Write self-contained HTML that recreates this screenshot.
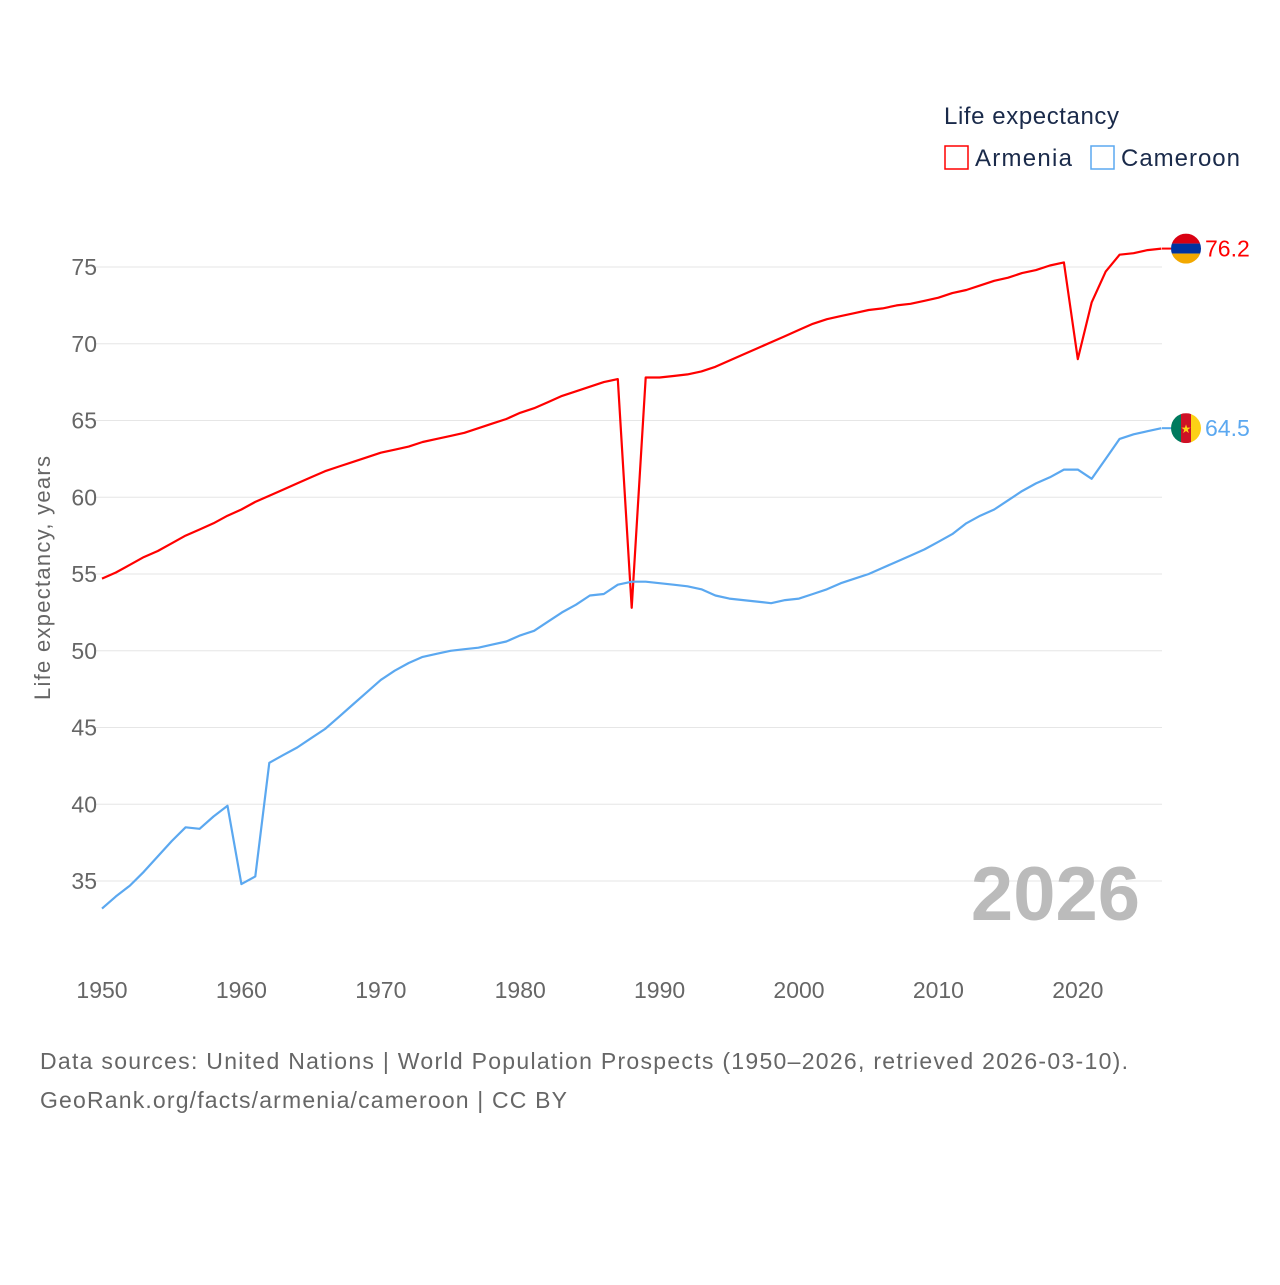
<!DOCTYPE html>
<html><head><meta charset="utf-8"><style>
body{margin:0;background:#fff;font-family:"Liberation Sans",sans-serif}
svg text{font-family:"Liberation Sans",sans-serif}
</style></head><body>
<svg id="chart" width="1280" height="1280" viewBox="0 0 1280 1280">
<defs><clipPath id="cA"><circle id="cAc" cx="1186" cy="0" r="15"/></clipPath><clipPath id="cC"><circle id="cCc" cx="1186" cy="0" r="15"/></clipPath></defs>
<g id="grid"></g>
<g id="yt"></g>
<g id="xt"></g>
<text x="50" y="578" transform="rotate(-90 50 578)" text-anchor="middle" font-size="22" fill="#666" textLength="244">Life expectancy, years</text>
<text x="1140" y="920" text-anchor="end" font-size="76" font-weight="bold" fill="#bbb">2026</text>
<g id="series"></g>
<g>
<text x="944" y="124" font-size="24" fill="#1a2a4a" textLength="175">Life expectancy</text>
<g><rect x="945" y="146" width="23" height="23" fill="none" stroke="#f00" stroke-width="1.5"/><text x="975" y="166" font-size="24" fill="#1a2a4a" textLength="97">Armenia</text></g>
<g><rect x="1091" y="146" width="23" height="23" fill="none" stroke="#5ba8f0" stroke-width="1.5"/><text x="1121" y="166" font-size="24" fill="#1a2a4a" textLength="119">Cameroon</text></g>
</g>
<text x="40" y="1069" font-size="23" fill="#666" textLength="1088">Data sources: United Nations | World Population Prospects (1950–2026, retrieved 2026-03-10).</text>
<text x="40" y="1108" font-size="23" fill="#666" textLength="527">GeoRank.org/facts/armenia/cameroon | CC BY</text>
</svg>
<script>
const years=[];for(let y=1950;y<=2026;y++)years.push(y);
const armenia=[54.7,55.1,55.6,56.1,56.5,57.0,57.5,57.9,58.3,58.8,59.2,59.7,60.1,60.5,60.9,61.3,61.7,62.0,62.3,62.6,62.9,63.1,63.3,63.6,63.8,64.0,64.2,64.5,64.8,65.1,65.5,65.8,66.2,66.6,66.9,67.2,67.5,67.7,52.8,67.8,67.8,67.9,68.0,68.2,68.5,68.9,69.3,69.7,70.1,70.5,70.9,71.3,71.6,71.8,72.0,72.2,72.3,72.5,72.6,72.8,73.0,73.3,73.5,73.8,74.1,74.3,74.6,74.8,75.1,75.3,69.0,72.7,74.7,75.8,75.9,76.1,76.2];
const cameroon=[33.2,34.0,34.7,35.6,36.6,37.6,38.5,38.4,39.2,39.9,34.8,35.3,42.7,43.2,43.7,44.3,44.9,45.7,46.5,47.3,48.1,48.7,49.2,49.6,49.8,50.0,50.1,50.2,50.4,50.6,51.0,51.3,51.9,52.5,53.0,53.6,53.7,54.3,54.5,54.5,54.4,54.3,54.2,54.0,53.6,53.4,53.3,53.2,53.1,53.3,53.4,53.7,54.0,54.4,54.7,55.0,55.4,55.8,56.2,56.6,57.1,57.6,58.3,58.8,59.2,59.8,60.4,60.9,61.3,61.8,61.8,61.2,62.5,63.8,64.1,64.3,64.5];
const yTicks=[35,40,45,50,55,60,65,70,75];
const xTicks=[1950,1960,1970,1980,1990,2000,2010,2020];
const X=v=>102+(v-1950)*13.94;
const Y=v=>267+(75-v)*15.35;
const NS='http://www.w3.org/2000/svg';
function mk(t,a,p){const e=document.createElementNS(NS,t);for(const k in a)e.setAttribute(k,a[k]);p.appendChild(e);return e;}
const grid=document.getElementById('grid'),yt=document.getElementById('yt'),xt=document.getElementById('xt'),ser=document.getElementById('series');
yTicks.forEach(v=>{
const l=mk('line',{x1:95,x2:1162,y1:Y(v),y2:Y(v),stroke:'#e6e6e6','stroke-width':1},grid);


const t=mk('text',{x:97,y:Y(v)+8,'text-anchor':'end','font-size':23,fill:'#666'},yt);t.textContent=v;


});
xTicks.forEach(v=>{
const t=mk('text',{x:X(v),y:998,'text-anchor':'middle','font-size':23,fill:'#666'},xt);t.textContent=v;


});
function line(data,color,name){
const d=data.map((v,i)=>(i?'L':'M')+X(years[i]).toFixed(1)+','+Y(v).toFixed(1)).join('');
const p=mk('path',{d:d,fill:'none',stroke:color,'stroke-width':2.2,'stroke-linejoin':'round'},ser);


const last=data[data.length-1],ly=Y(last);
mk('line',{x1:1162,x2:1171,y1:ly,y2:ly,stroke:color,'stroke-width':2},ser);
const t=mk('text',{x:1205,y:ly+8,'font-size':23,fill:color},ser);t.textContent=last.toFixed(1);


return ly;
}
const ay=line(armenia,'#ff0000','armenia');
const cy=line(cameroon,'#5ba8f0','cameroon');
document.getElementById('cAc').setAttribute('cy',ay);
document.getElementById('cCc').setAttribute('cy',cy);
const fa=mk('g',{'clip-path':'url(#cA)'},ser);


mk('rect',{x:1171,y:ay-15,width:30,height:10,fill:'#d90012'},fa);
mk('rect',{x:1171,y:ay-5,width:30,height:10,fill:'#0033a0'},fa);
mk('rect',{x:1171,y:ay+5,width:30,height:10,fill:'#f2a800'},fa);
const fc=mk('g',{'clip-path':'url(#cC)'},ser);


mk('rect',{x:1171,y:cy-15,width:10,height:30,fill:'#007a5e'},fc);
mk('rect',{x:1181,y:cy-15,width:10,height:30,fill:'#ce1126'},fc);
mk('rect',{x:1191,y:cy-15,width:10,height:30,fill:'#fcd116'},fc);
const st=mk('text',{x:1186,y:cy+5,'text-anchor':'middle','font-size':12,fill:'#fcd116'},fc);st.textContent='★';
</script>
</body></html>
